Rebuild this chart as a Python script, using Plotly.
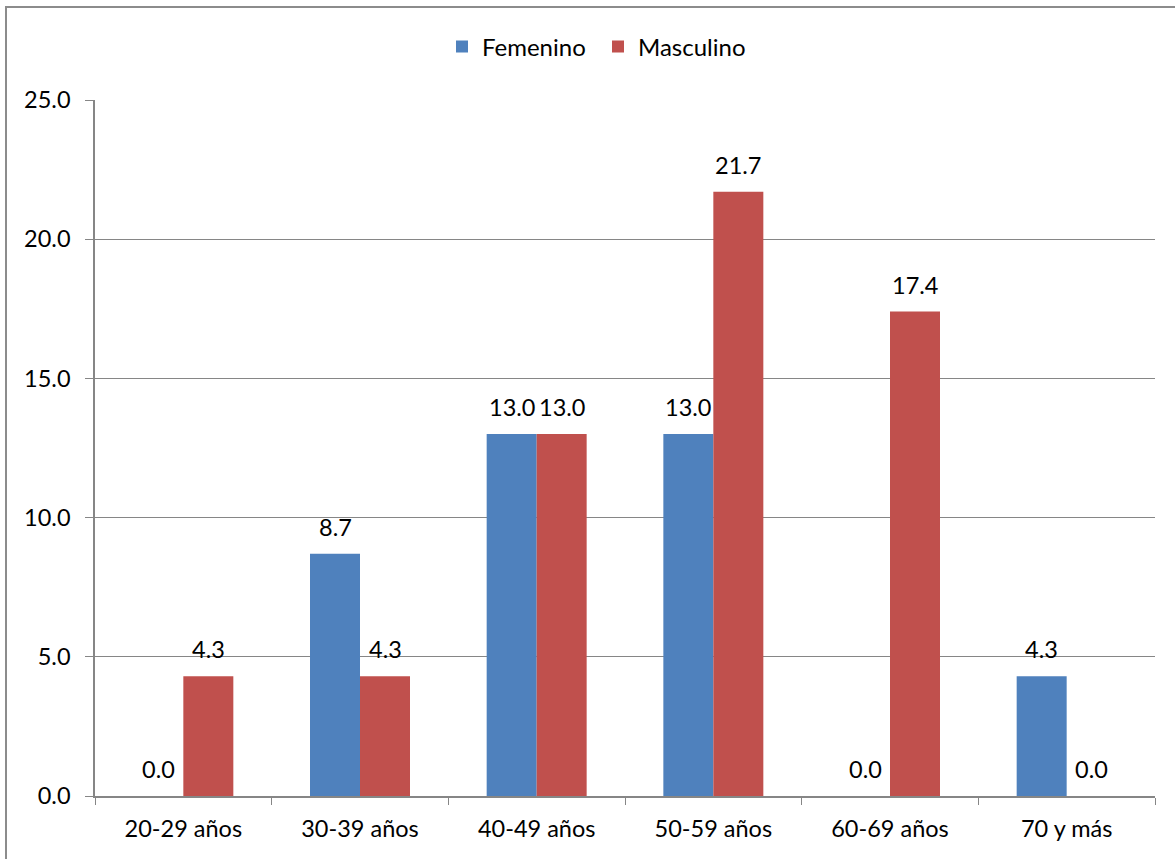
import plotly.graph_objects as go

categories = ["20-29 años", "30-39 años", "40-49 años", "50-59 años", "60-69 años", "70 y más"]
femenino = [0.0, 8.7, 13.0, 13.0, 0.0, 4.3]
masculino = [4.3, 4.3, 13.0, 21.7, 17.4, 0.0]

FONT = "Lato, Carlito, Calibri, sans-serif"
FS = 23.5
W, H = 1175, 859
ML, MR, MT, MB = 95, 20, 100, 63
PW, PH = W - ML - MR, H - MT - MB

series = [("Femenino", femenino, "#4F81BD", -25), ("Masculino", masculino, "#C0504D", 25)]

fig = go.Figure()
annotations = []
for name, vals, color, dx in series:
    fig.add_trace(go.Bar(
        x=categories, y=vals, name=name, marker=dict(color=color, line=dict(width=0)),
    ))
    for cat, v in zip(categories, vals):
        annotations.append(dict(
            x=cat, y=v, xref="x", yref="y", text=f"{v:.1f}", showarrow=False,
            xshift=dx, yshift=27, yanchor="middle", xanchor="center",
            font=dict(size=FS, color="black", family=FONT),
        ))

fig.update_layout(
    width=W, height=H, barmode="group", bargap=0.434, bargroupgap=0,
    margin=dict(l=ML, r=MR, t=MT, b=MB, pad=0),
    paper_bgcolor="white", plot_bgcolor="white",
    font=dict(family=FONT, size=FS, color="black"),
    legend=dict(orientation="h", x=(442 - ML) / PW, xanchor="left", y=1 + 53 / PH, yanchor="middle",
                font=dict(size=24), traceorder="normal", itemwidth=30,
                entrywidth=111, entrywidthmode="pixels"),
    annotations=annotations,
    shapes=[dict(type="rect", xref="paper", yref="paper",
                 x0=(6 - ML) / PW, x1=1.2, y0=-0.3, y1=1 + (MT - 7) / PH,
                 line=dict(color="#8c8c8c", width=2), fillcolor="rgba(0,0,0,0)", layer="below")],
)
fig.update_xaxes(showgrid=False, showline=True, linecolor="#868686", linewidth=1.5,
                 ticks="outside", tickson="boundaries", ticklen=7, tickcolor="#868686",
                 ticklabelstandoff=11, tickfont=dict(size=FS))
fig.update_yaxes(range=[0, 25], dtick=5, tickformat=".1f", showgrid=True, gridcolor="#868686",
                 gridwidth=1.2, showline=True, linecolor="#868686", linewidth=1.5,
                 ticks="outside", ticklen=8, tickcolor="#868686", zeroline=False,
                 ticklabelstandoff=10, tickfont=dict(size=FS))

fig.write_html("out.html")
